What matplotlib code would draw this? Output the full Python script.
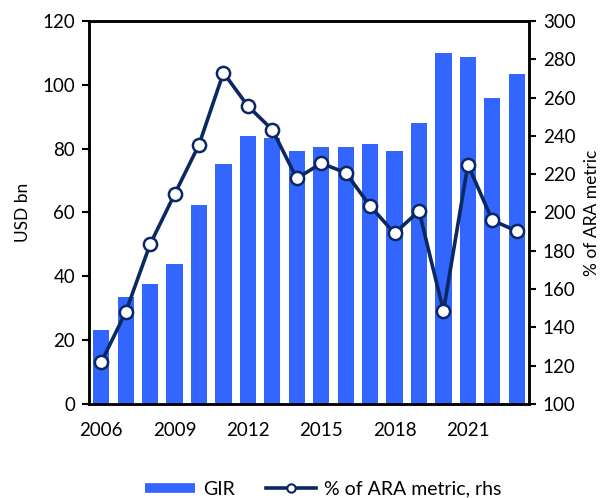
import matplotlib
matplotlib.use("Agg")
import matplotlib.pyplot as plt
from matplotlib.lines import Line2D
import numpy as np

plt.rcParams['font.family'] = ['Lato', 'DejaVu Sans']

years = list(range(2006, 2024))
gir = [23.2, 33.6, 37.6, 43.9, 62.5, 75.2, 83.9, 83.4, 79.3, 80.6, 80.6, 81.6, 79.3, 88.0, 110.0, 108.8, 96.0, 103.5]
ara_pct = [121.8, 147.9, 183.4, 209.5, 235.4, 273.0, 255.6, 243.2, 217.8, 225.7, 220.8, 203.4, 189.1, 200.8, 148.6, 225.0, 195.9, 190.3]
xtick_years = [2006, 2009, 2012, 2015, 2018, 2021]

bar_color = '#3366FF'
line_color = '#0B2862'

fig = plt.figure(figsize=(6.12, 4.98), dpi=100)
ax = fig.add_axes([0.1454, 0.1888, 0.719, 0.769])
x = np.arange(len(years))
ax.bar(x, gir, width=0.66, color=bar_color, zorder=2)
ax.set_xlim(-0.5, len(years) - 0.5)
ax.set_ylim(0, 120)
ax.set_yticks(range(0, 121, 20))
ax.set_xticks([years.index(y) for y in xtick_years])
ax.set_xticklabels([str(y) for y in xtick_years])
ax.tick_params(axis='x', length=0, pad=13, labelsize=13.5)
ax.tick_params(axis='y', length=5, width=1.5, labelsize=13.5, pad=5)
ax.set_ylabel('USD bn', fontsize=12.5, labelpad=8)
for s in ax.spines.values():
    s.set_linewidth(1.8)

ax2 = ax.twinx()
ax2.plot(x, ara_pct, color=line_color, lw=2.6, marker='o', markersize=9.5,
         markerfacecolor='white', markeredgecolor=line_color, markeredgewidth=1.8, zorder=3)
ax2.set_ylim(100, 300)
ax2.set_yticks(range(100, 301, 20))
ax2.tick_params(axis='y', length=5, width=1.5, labelsize=13.5, pad=5)
ax2.set_ylabel('% of ARA metric', fontsize=12.5, labelpad=6)
for s in ax2.spines.values():
    s.set_linewidth(1.8)

handles = [
    Line2D([0], [0], color=bar_color, lw=7, solid_capstyle='butt'),
    Line2D([0], [0], color=line_color, lw=2.6, marker='o', markersize=6,
           markerfacecolor='white', markeredgecolor=line_color, markeredgewidth=1.5),
]
fig.legend(handles, ['GIR', '% of ARA metric, rhs'], loc='center', bbox_to_anchor=(0.528, 0.018),
           ncol=2, frameon=False, fontsize=14, handlelength=2.6, columnspacing=1.6, handletextpad=0.4)

fig.savefig('out.png', dpi=100)
